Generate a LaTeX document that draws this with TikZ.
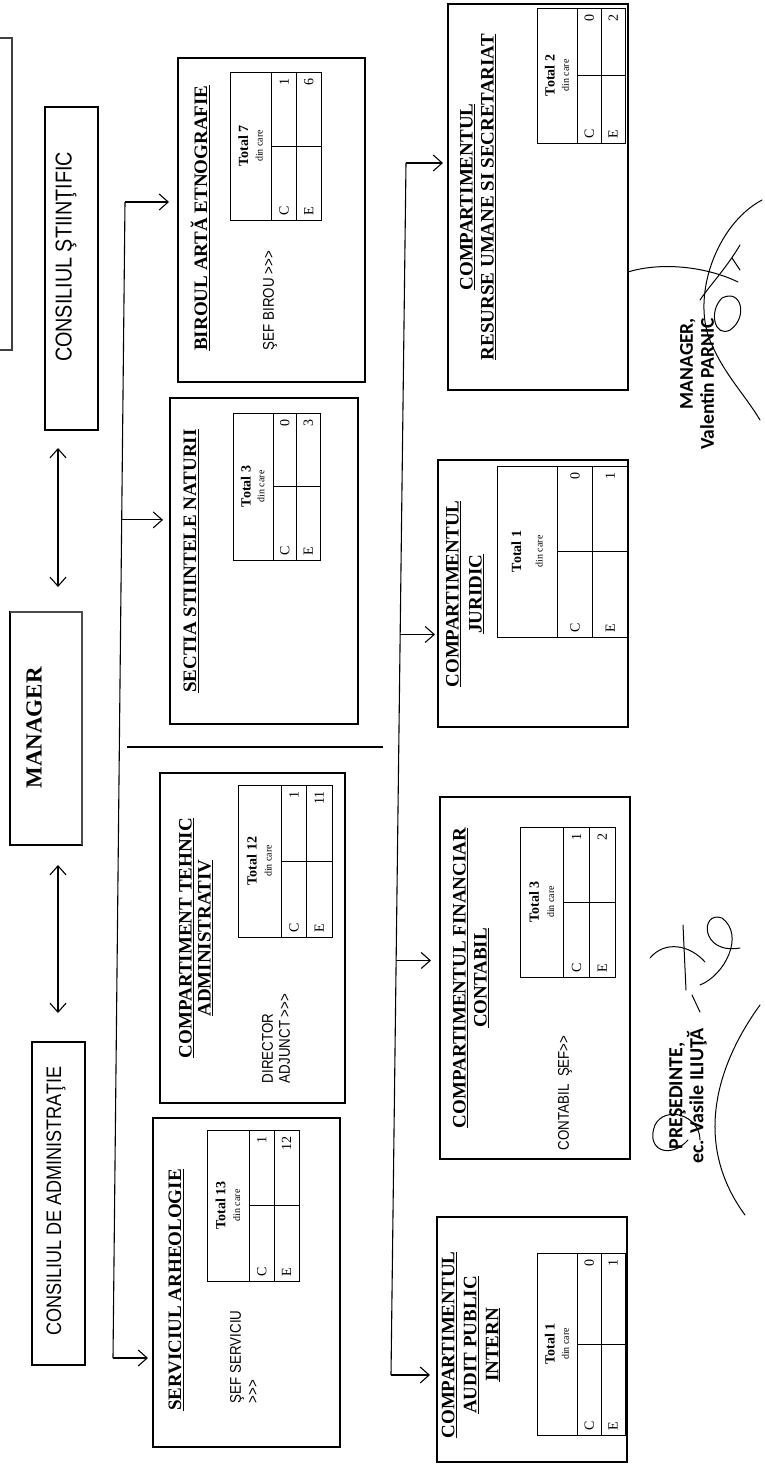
\documentclass[tikz,border=0pt]{standalone}
\usepackage{fontspec}
\setmainfont{Liberation Serif}
\newfontfamily\nsans[FakeStretch=0.86]{Liberation Sans}
\newfontfamily\sigf{Carlito}
\usetikzlibrary{arrows.meta,calc}
\tikzset{
  box/.style={draw, line width=1.1pt, inner sep=0pt, outer sep=0pt},
  tbox/.style={draw, line width=0.8pt, inner sep=0pt, outer sep=0pt},
  tl/.style={line width=0.8pt},
  conn/.style={line width=1.1pt},
  arr/.style={conn, -{Straight Barb[length=9pt,width=16pt]}},
  biarr/.style={conn, {Straight Barb[length=9pt,width=16pt]}-{Straight Barb[length=9pt,width=16pt]}},
  rt/.style={rotate=90, inner sep=0pt, outer sep=0pt},
  ttl/.style={rt, align=center, font=\fontsize{19}{21}\selectfont\bfseries},
  sl/.style={rt, align=left, font=\nsans\fontsize{15.5}{17}\selectfont},
  big/.style={rt, font=\nsans\fontsize{22}{24}\selectfont},
  tt/.style={rt, font=\fontsize{14}{14}\selectfont\bfseries},
  td/.style={rt, font=\fontsize{10}{10}\selectfont},
  tc/.style={rt, font=\fontsize{14}{14}\selectfont},
  sg/.style={rt, font=\sigf\bfseries\fontsize{20}{21}\selectfont},
  scrib/.style={line width=1pt, line cap=round, line join=round},
}
\newcommand\dbox[6][box]{\node[#1, minimum width={(#5)-(#3)}, minimum height={(#6)-(#4)}] (#2) at ({((#3)+(#5))/2},{((#4)+(#6))/2}) {};}
\newcommand\dtab[8]{%
  \dbox[tbox]{#1}{#2}{#3}{#4}{#5}%
  \pgfmathsetmacro\tha{#2+0.46*(#4-#2)}%
  \pgfmathsetmacro\thb{\tha+0.5*(#4-\tha)}%
  \pgfmathsetmacro\tym{(#3+#5)/2}%
  \pgfmathsetmacro\tcc{(\tha+\thb)/2}%
  \pgfmathsetmacro\tec{(\thb+#4)/2}%
  \pgfmathsetmacro\tta{#2+0.32*(\tha-#2)}%
  \pgfmathsetmacro\ttb{#2+0.7*(\tha-#2)}%
  \draw[tl] (\tha,#3) -- (\tha,#5) (\thb,#3) -- (\thb,#5) (\tha,\tym) -- (#4,\tym);%
  \node[tt] (#1-t) at (\tta,\tym) {Total #6};%
  \node[td] (#1-d) at (\ttb,\tym) {din care};%
  \node[tc, anchor=west] (#1-c) at (\tcc,#5-5) {C};%
  \node[tc, anchor=west] (#1-e) at (\tec,#5-5) {E};%
  \node[tc, anchor=east] (#1-cv) at (\tcc,#3+6) {#7};%
  \node[tc, anchor=east] (#1-ev) at (\tec,#3+6) {#8};%
}
\begin{document}
\begin{tikzpicture}[x=1pt,y=-1pt]
\useasboundingbox (0,0) rectangle (764,1467);
\clip (0,0) rectangle (764,1467);

% left column
\dbox[box, line width=2pt, draw=black!75]{topbox}{-30}{38}{12}{350}
\dbox{cst}{45}{107}{98}{430}
\node[big, font=\nsans\fontsize{23}{24}\selectfont] (cst-t) at (66,257) {CONSILIUL ŞTIINŢIFIC};
\dbox{mgr}{10}{612}{82}{845}
\draw[line width=2.2pt, black!70] (mgr.north west) -- (mgr.north east) -- (mgr.south east);
\node[rt, font=\fontsize{23}{23}\selectfont\bfseries] (mgr-t) at (34,728) {MANAGER};
\dbox{cda}{32}{1042}{85}{1365}
\node[big, font=\nsans\fontsize{21}{24}\selectfont] (cda-t) at (56,1201) {CONSILIUL DE ADMINISTRAŢIE};
\coordinate (ax) at (58,0);
\draw[biarr] ($(cst.south -| ax)+(0,18)$) -- ($(mgr.north -| ax)+(0,-25)$);
\draw[biarr] ($(mgr.south -| ax)+(0,20)$) -- ($(cda.north -| ax)+(0,-29)$);

% middle column boxes
\dbox{biroul}{178}{58}{365}{382}
\node[ttl] (biroul-h) at (200,218) {\underline{BIROUL ARTĂ ETNOGRAFIE}};
\node[sl, anchor=west] (biroul-s) at (270,350) {ŞEF BIROU >{}>{}>};
\dtab{bt}{230}{72}{321}{220}{7}{1}{6}

\dbox{sectia}{170}{398}{358}{724}
\node[ttl] (sectia-h) at (191,561) {\underline{SECTIA STIINTELE NATURII}};
\dtab{st}{233}{413}{320}{560}{3}{0}{3}

\dbox{tehnic}{160}{773}{345}{1103}
\node[ttl, font=\fontsize{19}{19}\selectfont\bfseries] (tehnic-h) at (196,938) {\underline{COMPARTIMENT TEHNIC}\\\underline{ADMINISTRATIV}};
\node[sl, anchor=west] (tehnic-s) at (276,1083) {DIRECTOR\\ADJUNCT >{}>{}>};
\dtab{tt}{238}{785}{332}{937}{12}{1}{11}

\dbox{servic}{153}{1118}{340}{1447}
\node[ttl] (servic-h) at (176,1290) {\underline{SERVICIUL ARHEOLOGIE}};
\node[sl, anchor=west] (servic-s) at (244,1403) {ŞEF SERVICIU\\>{}>{}>};
\dtab{sv}{207}{1130}{299}{1281}{13}{1}{12}

% right column boxes
\dbox{resurse}{448}{4}{628}{390}
\node[ttl] (resurse-h) at (478,197) {\underline{COMPARTIMENTUL}\\\underline{RESURSE UMANE SI SECRETARIAT}};
\dtab{rt}{537}{8}{625}{143}{2}{0}{2}

\dbox{juridic}{438}{460}{628}{727}
\node[ttl, font=\fontsize{19}{23}\selectfont\bfseries] (juridic-h) at (465,594) {\underline{COMPARTIMENTUL}\\\underline{JURIDIC}};
\dtab{jt}{497}{466}{628}{637}{1}{0}{1}

\dbox{financiar}{440}{797}{630}{1159}
\node[ttl] (financiar-h) at (471,978) {\underline{COMPARTIMENTUL FINANCIAR}\\\underline{CONTABIL}};
\node[sl, anchor=west] (financiar-s) at (565,1150) {CONTABIL\ \ ŞEF>{}>};
\dtab{ft}{520}{827}{615}{977}{3}{1}{2}

\dbox{audit}{437}{1217}{627}{1462}
\node[ttl, font=\fontsize{19}{22}\selectfont\bfseries] (audit-h) at (471,1345) {\underline{COMPARTIMENTUL}\\\underline{AUDIT PUBLIC}\\\underline{INTERN}};
\dtab{at}{537}{1253}{625}{1435}{1}{0}{1}

% trunks
\coordinate (t1a) at (125,202);
\coordinate (t1b) at (113,1358);
\coordinate (t1s) at ($(t1a)!0.275!(t1b)$);
\draw[conn] (t1a) -- (t1b);
\draw[arr] (t1a) -- ($(biroul.west |- t1a)+(-9,0)$);
\draw[arr] (t1s) -- ($(sectia.west |- t1s)+(-7,0)$);
\draw[arr] (t1b) -- ($(servic.west |- t1b)+(-5,0)$);
\coordinate (sepL) at (127,747);
\coordinate (sepR) at (383,747);
\draw[conn] (sepL) -- (sepR);

\coordinate (t2a) at (406,163);
\coordinate (t2b) at (391,1375);
\coordinate (t2j) at ($(t2a)!0.389!(t2b)$);
\coordinate (t2f) at ($(t2a)!0.658!(t2b)$);
\draw[conn] (t2a) -- (t2b);
\draw[arr] (t2a) -- ($(resurse.west |- t2a)+(-5,0)$);
\draw[arr] (t2j) -- ($(juridic.west |- t2j)+(-3,0)$);
\draw[arr] (t2f) -- ($(financiar.west |- t2f)+(-9,0)$);
\draw[arr] (t2b) -- ($(audit.west |- t2b)+(-7,0)$);

% signatures
\node[sg, align=center] (pres) at (688,1096) {PREŞEDINTE,\\ec. Vasile ILIUŢĂ};
\node[sg, align=right, anchor=east, font=\sigf\bfseries\fontsize{19.5}{21}\selectfont] (mansig) at (697,318) {MANAGER,\\Valentin PARNIC};

\draw[scrib] (628,272) .. controls (660,262) and (705,266) .. (738,282);
\draw[scrib] (762,200) .. controls (715,225) and (690,300) .. (712,345) .. controls (725,375) and (745,395) .. (760,420);
\draw[scrib] (722,298) .. controls (742,288) and (748,318) .. (730,330) .. controls (715,338) and (708,312) .. (722,298);
\draw[scrib] (732,258) -- (740,270);
\draw[scrib] (700,300) .. controls (710,285) and (725,270) .. (740,245);

\draw[scrib] (650,958) .. controls (665,940) and (690,945) .. (705,962);
\draw[scrib] (683,925) -- (686,990);
\draw[scrib] (700,985) .. controls (725,975) and (745,935) .. (722,918) .. controls (700,910) and (700,955) .. (740,948);
\draw[scrib] (688,1140) .. controls (670,1160) and (645,1150) .. (655,1125) .. controls (665,1105) and (700,1115) .. (700,1140);
\draw[scrib] (760,1005) .. controls (720,1060) and (690,1140) .. (745,1215);
\draw[scrib] (692,995) -- (700,1012);
\end{tikzpicture}
\end{document}
